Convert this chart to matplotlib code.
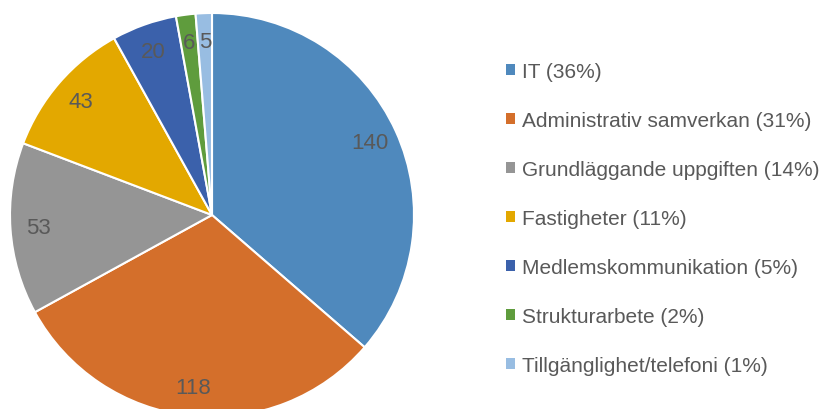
import matplotlib.pyplot as plt
from matplotlib.patches import Patch

# Data
kategorier = ["IT", "Administrativ samverkan", "Grundläggande uppgiften",
              "Fastigheter", "Medlemskommunikation", "Strukturarbete",
              "Tillgänglighet/telefoni"]
antal = [140, 118, 53, 43, 20, 6, 5]
procent = [36, 31, 14, 11, 5, 2, 1]
farger = ["#4F89BD", "#D46F2B", "#959595", "#E3A800", "#3B61AB", "#5F9C3D", "#98BDE2"]

W, H = 829, 410
fig = plt.figure(figsize=(W / 100, H / 100), dpi=100)
fig.patch.set_facecolor("white")

# pie axes: centre (212, 216) px, radius 202 px
cx, cy, r = 212, 216, 202
ax = fig.add_axes([(cx - r) / W, (H - cy - r) / H, 2 * r / W, 2 * r / H])

wedges, texts = ax.pie(
    antal, colors=farger, startangle=90, counterclock=False,
    labels=[str(v) for v in antal], labeldistance=0.86,
    wedgeprops=dict(edgecolor="white", linewidth=1.5),
    textprops=dict(color="#595959", fontsize=16, family="Liberation Sans"),
)
for t in texts:
    t.set_horizontalalignment("center")
    t.set_verticalalignment("center")
ax.set_xlim(-1, 1)
ax.set_ylim(-1, 1)
ax.set_aspect("equal")
ax.axis("off")

# Legend
handles = [Patch(facecolor=c, edgecolor="none") for c in farger]
etiketter = [f"{k} ({p}%)" for k, p in zip(kategorier, procent)]
fig.legend(handles, etiketter, loc="upper left", bbox_to_anchor=(506 / W, 1 - 63 / H),
           frameon=False, labelcolor="#595959",
           prop=dict(family="Liberation Sans", size=15),
           handlelength=0.45, handleheight=0.45, handletextpad=0.3,
           labelspacing=1.44, borderaxespad=0, borderpad=0)

fig.savefig("out.png", dpi=100, facecolor="white")
